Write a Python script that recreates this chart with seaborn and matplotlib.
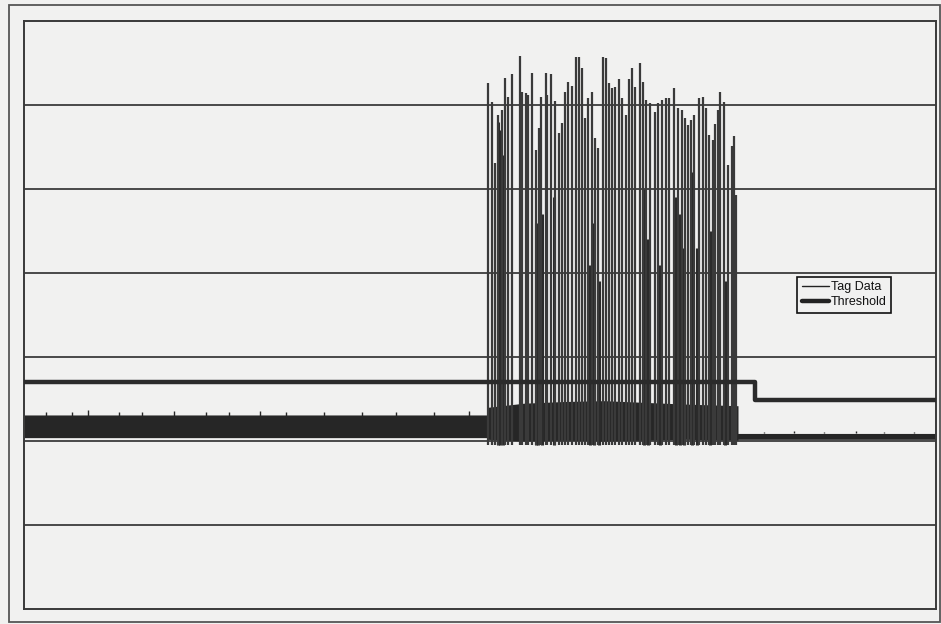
import numpy as np
import pandas as pd
import seaborn as sns
import matplotlib.pyplot as plt
from matplotlib.lines import Line2D
from matplotlib.patches import Rectangle

sns.set_style('white')
plt.rcParams['font.family'] = ['Liberation Sans', 'DejaVu Sans']

# tag data: individual spikes inside the burst (position, peak value)
spike_x = [464, 468, 471, 474, 478, 481, 484, 488, 496, 498, 502, 504, 508,
           512, 515, 517, 522, 523, 527, 531, 535, 538, 541, 544, 548, 552,
           555, 558, 561, 564, 568, 571, 574, 579, 582, 585, 588, 591, 595,
           598, 602, 605, 608, 611, 616, 619, 622, 626, 631, 634, 638, 642,
           645, 650, 654, 658, 661, 664, 667, 670, 675, 679, 682, 685, 689,
           691, 694, 696, 700, 704, 708, 710, 712]
spike_peak = [6.26, 6.04, 5.31, 5.88, 5.94, 6.32, 6.10, 6.37, 6.58, 6.15, 6.14,
              6.12, 6.38, 5.46, 5.73, 6.10, 6.38, 6.12, 6.37, 6.05, 5.67, 5.79,
              6.15, 6.27, 6.23, 6.57, 6.57, 6.44, 5.85, 6.08, 6.15, 5.61, 5.49,
              6.57, 6.56, 6.26, 6.20, 6.21, 6.31, 6.08, 5.88, 6.31, 6.44, 6.21,
              6.50, 6.27, 6.06, 6.02, 5.92, 6.02, 6.06, 6.08, 6.08, 6.20, 5.96,
              5.94, 5.85, 5.76, 5.82, 5.88, 6.08, 6.10, 5.96, 5.64, 5.58, 5.77,
              5.94, 6.15, 6.04, 5.29, 5.51, 5.63, 4.93]
spike_base = 1.95

# dense darker part of the burst (position, height)
dense_x = [474, 476, 479, 512, 514, 518, 530, 566, 570, 575, 620, 624, 636,
           652, 656, 660, 668, 673, 686, 701]
dense_peak = [5.80, 5.70, 5.40, 4.60, 4.20, 4.70, 4.90, 4.10, 4.60, 3.90, 5.00,
              4.40, 4.10, 4.90, 4.70, 4.30, 5.20, 4.30, 4.50, 3.90]

# noise band of the tag data (envelope)
band_x = [0, 463, 463, 500, 540, 580, 620, 660, 714, 714, 912]
band_top = [2.31, 2.31, 2.40, 2.45, 2.47, 2.48, 2.46, 2.44, 2.42, 2.09, 2.09]
band_bottom = [2.04, 2.04, 2.02, 2.00, 2.01, 2.00, 2.01, 2.02, 2.01, 2.02, 2.02]

# small noise peaks sticking out of the band top
blip_x = [22, 48, 64, 95, 118, 150, 182, 205, 236, 262, 300, 338, 372, 410,
          445, 740, 770, 800, 832, 860, 890]
blip_top = [2.34, 2.35, 2.37, 2.34, 2.35, 2.36, 2.34, 2.35, 2.36, 2.34, 2.35,
            2.34, 2.35, 2.34, 2.36, 2.11, 2.12, 2.11, 2.12, 2.11, 2.11]

# threshold (step)
thr_x = [0, 731, 731, 912]
thr_y = [2.70, 2.70, 2.49, 2.49]

thr = pd.DataFrame({'x': thr_x, 'y': thr_y})

bg = '#f1f1f0'
fig = plt.figure(figsize=(9.41, 6.24), dpi=100, facecolor=bg)
ax = fig.add_axes([24 / 941, 15 / 624, 912 / 941, 588 / 624], facecolor=bg)

# outer chart border
fig.patches.append(Rectangle((9 / 941, 2 / 624), 931 / 941, 617 / 624,
                             transform=fig.transFigure, fill=False,
                             edgecolor='#555555', lw=1.3))

for gy in range(1, 7):
    ax.axhline(gy, color='#3c3c3c', lw=1.3, zorder=1)

ax.fill_between(band_x, band_bottom, band_top, color='#262626', lw=0, zorder=2)
ax.vlines(blip_x, 2.1, blip_top, color='#262626', lw=1.0, zorder=2)
ax.vlines(dense_x, spike_base, dense_peak, color='#2a2a2a', lw=2.2, zorder=3)
ax.vlines(spike_x, spike_base, spike_peak, color='#3a3a3a', lw=1.6, zorder=3)

sns.lineplot(data=thr, x='x', y='y', ax=ax, color='#2b2b2b', lw=3.2,
             sort=False, estimator=None, zorder=4)

ax.set_xlim(0, 912)
ax.set_ylim(0, 7)
ax.set_xticks([])
ax.set_yticks([])
ax.set_xlabel('')
ax.set_ylabel('')
for s in ax.spines.values():
    s.set_visible(True)
    s.set_color('#3a3a3a')
    s.set_linewidth(1.4)

handles = [Line2D([], [], color='#222222', lw=1.0),
           Line2D([], [], color='#222222', lw=3.2)]
leg = ax.legend(handles, ['Tag Data', 'Threshold'], loc='upper left',
                bbox_to_anchor=(0.848, 0.565), borderaxespad=0,
                fontsize=9, handlelength=2.2, handletextpad=0.15,
                borderpad=0.35, labelspacing=0.25, frameon=True,
                fancybox=False, framealpha=1)
leg.get_frame().set_edgecolor('#111111')
leg.get_frame().set_linewidth(1.2)
leg.get_frame().set_facecolor(bg)
for t in leg.get_texts():
    t.set_color('#111111')

fig.savefig('out.png', dpi=100, facecolor=bg)
